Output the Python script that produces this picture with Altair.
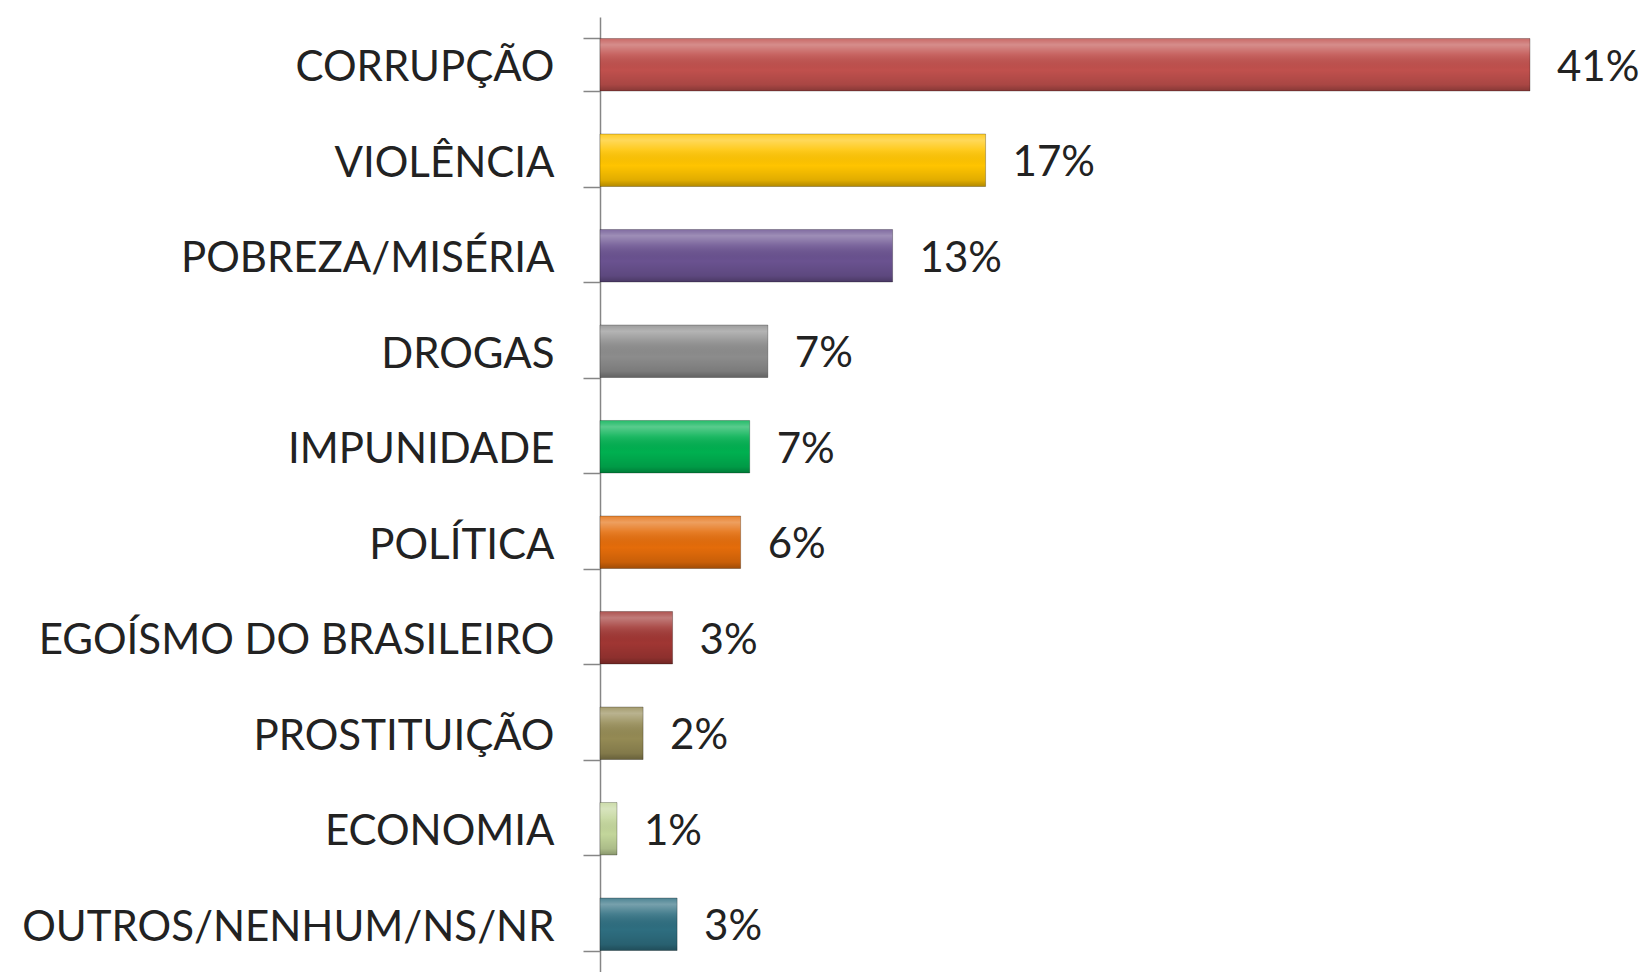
import altair as alt
import pandas as pd

categories = ["CORRUPÇÃO", "VIOLÊNCIA", "POBREZA/MISÉRIA", "DROGAS", "IMPUNIDADE",
              "POLÍTICA", "EGOÍSMO DO BRASILEIRO", "PROSTITUIÇÃO", "ECONOMIA",
              "OUTROS/NENHUM/NS/NR"]
values = [41.0, 17.0, 12.9, 7.4, 6.6, 6.2, 3.2, 1.9, 0.75, 3.4]
value_labels = ["41%", "17%", "13%", "7%", "7%", "6%", "3%", "2%", "1%", "3%"]
colors = ["#C0504D", "#FFC400", "#6A5290", "#8C8C8C", "#00B050",
          "#E46C0A", "#A03633", "#948A54", "#C3D69B", "#2E6E80"]

df = pd.DataFrame({"cat": categories, "val": values, "lab": value_labels})

FONT = "Lato"

y_enc = alt.Y("cat:N", sort=categories,
              scale=alt.Scale(paddingInner=0.45, paddingOuter=0.225),
              axis=alt.Axis(title=None, labelFont=FONT, labelFontSize=42,
                            labelColor="#222222", labelPadding=29, tickSize=17,
                            labelOffset=3,
                            tickColor="#868686", domainColor="#868686",
                            domainWidth=1.5, tickWidth=1.5, tickBand="extent",
                            labelLimit=700, grid=False))
x_enc = alt.X("val:Q", scale=alt.Scale(domain=[0, 45.85], nice=False), axis=None)

base = alt.Chart(df)

bars = base.mark_bar().encode(
    y=y_enc, x=x_enc,
    color=alt.Color("cat:N", scale=alt.Scale(domain=categories, range=colors), legend=None),
)

shine = base.mark_bar(
    color=alt.Gradient(
        gradient="linear", x1=0, y1=0, x2=0, y2=1,
        stops=[alt.GradientStop(offset=0, color="rgba(255,255,255,0.15)"),
               alt.GradientStop(offset=0.12, color="rgba(255,255,255,0.35)"),
               alt.GradientStop(offset=0.3, color="rgba(255,255,255,0.12)"),
               alt.GradientStop(offset=0.6, color="rgba(0,0,0,0.0)"),
               alt.GradientStop(offset=0.88, color="rgba(0,0,0,0.12)"),
               alt.GradientStop(offset=1, color="rgba(0,0,0,0.3)")]),
    stroke="rgba(0,0,0,0.25)", strokeWidth=1,
).encode(y=y_enc, x=x_enc)

text = base.mark_text(align="left", baseline="middle", dx=27, dy=3,
                      font=FONT, fontSize=42, color="#222222").encode(
    y=y_enc, x=x_enc, text="lab:N")

chart = alt.layer(bars, shine, text).properties(
    width=1040, height=955,
    autosize=alt.AutoSizeParams(type="none"),
    padding={"left": 592, "top": 9, "right": 0, "bottom": 0},
).configure_view(stroke=None)

chart.save("out.html", embed_options={"renderer": "svg", "actions": False})
